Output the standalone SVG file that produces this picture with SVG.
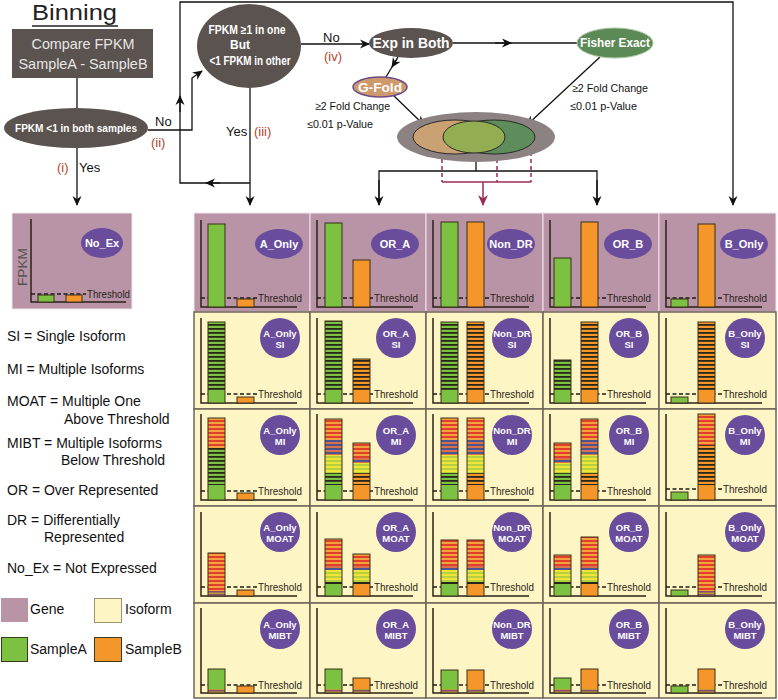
<svg xmlns="http://www.w3.org/2000/svg" width="778" height="700" viewBox="0 0 778 700">
<defs>
<style>
text{font-family:"Liberation Sans",Arial,sans-serif}
.gene{fill:#b994a7;stroke:#efe6ea;stroke-width:1}
.iso{fill:#fdf6c4;stroke:#6d655b;stroke-width:1.5}
.ax{fill:none;stroke:#2b2218;stroke-width:1.5}
.th{stroke:#1f1a14;stroke-width:1.3;stroke-dasharray:4 2.5}
.tt{font-size:10.5px;fill:#2b2218}
.lbl{fill:#6a4c9c}
.lt{font-weight:bold;fill:#fff;text-anchor:middle;font-size:11px}
.lc{font-weight:bold;fill:#fff;text-anchor:middle;font-size:9.5px}
.g{fill:#7cc142}
.o{fill:#f5962a}
.bar{stroke:#3a2e1a;stroke-width:1}
.ol{fill:none;stroke:#3a2e1a;stroke-width:1}
.k{fill:#26261a}
.dark{fill:#5b534f}
.wt{fill:#fff;font-weight:bold;text-anchor:middle}
.cn{stroke:#111;stroke-width:1.3;fill:none}
.red{stroke:#9b2a5a;stroke-width:1.5;fill:none}
.lab{font-size:13px;fill:#111}
.num{font-size:13px;fill:#b5452a}
.small{font-size:11px;fill:#111}
.leg{font-size:14px;fill:#111}
</style>
<marker id="ah" viewBox="0 0 10 10" refX="9" refY="5" markerWidth="10" markerHeight="10" markerUnits="userSpaceOnUse" orient="auto"><path d="M0,0.5 L10,5 L0,9.5 L3,5 z" fill="#111"/></marker>
<marker id="ahr" viewBox="0 0 10 10" refX="9" refY="5" markerWidth="11" markerHeight="11" markerUnits="userSpaceOnUse" orient="auto"><path d="M0,0.5 L10,5 L0,9.5 L3,5 z" fill="#9b2a5a"/></marker>
<pattern id="sG" width="4" height="4" patternUnits="userSpaceOnUse"><rect width="4" height="4" fill="#7cc142"/><rect width="4" height="1.8" fill="#26261a"/></pattern>
<pattern id="sO" width="4" height="4" patternUnits="userSpaceOnUse"><rect width="4" height="4" fill="#f5962a"/><rect width="4" height="1.8" fill="#26261a"/></pattern>
<pattern id="sR" width="4" height="4" patternUnits="userSpaceOnUse"><rect width="4" height="4" fill="#f4a23e"/><rect width="4" height="2" fill="#df3f2b"/></pattern>
<pattern id="sB" width="4" height="4" patternUnits="userSpaceOnUse"><rect width="4" height="4" fill="#d9704a"/><rect width="4" height="2" fill="#4a5592"/></pattern>
<pattern id="sY" width="4" height="4" patternUnits="userSpaceOnUse"><rect width="4" height="4" fill="#eee53c"/><rect width="4" height="2" fill="#b6d03e"/></pattern>
<pattern id="sM" width="3" height="3" patternUnits="userSpaceOnUse"><rect width="3" height="3" fill="#b8a03a"/><rect width="3" height="1.5" fill="#8a4a6a"/></pattern>
</defs>
<rect width="778" height="700" fill="#fff"/>

<g id="title">
<text x="32" y="20" font-size="22" fill="#222" textLength="85" lengthAdjust="spacingAndGlyphs">Binning</text>
<line x1="32" y1="26" x2="118" y2="26" stroke="#222" stroke-width="1.5"/>
</g>

<g id="connectors">
<line class="cn" x1="77" y1="78" x2="77" y2="108"/>
<line class="cn" x1="77" y1="148" x2="77" y2="205" marker-end="url(#ah)"/>
<polyline class="cn" points="148,130 192,130 192,78 202,71" marker-end="url(#ah)"/>
<line class="cn" x1="250" y1="88" x2="250" y2="205" marker-end="url(#ah)"/>
<polyline class="cn" points="250,183 180,183 180,2 733,2 733,205" marker-end="url(#ah)"/>
<path class="cn" d="M220,183 L206,183" marker-end="url(#ah)"/>
<path class="cn" d="M180,112 L180,96" marker-end="url(#ah)"/>
<line class="cn" x1="301" y1="44" x2="369" y2="44" marker-end="url(#ah)"/>
<line class="cn" x1="453" y1="43" x2="577" y2="43"/>
<path class="cn" d="M495,43 L511,43" marker-end="url(#ah)"/>
<line class="cn" x1="398" y1="57" x2="386" y2="77"/>
<path class="cn" d="M397,59 L392,67" marker-end="url(#ah)"/>
<line class="cn" x1="393" y1="95" x2="424" y2="125" marker-end="url(#ah)"/>
<line class="cn" x1="600" y1="57" x2="527" y2="125" marker-end="url(#ah)"/>
<polyline class="cn" points="476,153 476,171"/>
<polyline class="cn" points="379,205 379,171 597,171 597,205"/>
<line class="cn" x1="379" y1="180" x2="379" y2="205" marker-end="url(#ah)"/>
<line class="cn" x1="597" y1="180" x2="597" y2="205" marker-end="url(#ah)"/>
<path class="red" d="M442,152 V182 M497,152 V182 M531,152 V182" stroke-dasharray="4 3"/>
<path class="red" d="M442,182 H531"/>
<line class="red" x1="483" y1="182" x2="483" y2="205" marker-end="url(#ahr)"/>
<text class="lab" x="155" y="126">No</text>
<text class="num" x="151" y="147">(ii)</text>
<text class="num" x="57" y="172">(i)</text>
<text class="lab" x="79" y="172">Yes</text>
<text class="lab" x="226" y="136">Yes</text>
<text class="num" x="254" y="136">(iii)</text>
<text class="lab" x="323" y="42">No</text>
<text class="num" x="324" y="61">(iv)</text>
<text class="small" x="315" y="110" textLength="75" lengthAdjust="spacingAndGlyphs">≥2 Fold Change</text>
<text class="small" x="307" y="128" textLength="66" lengthAdjust="spacingAndGlyphs">≤0.01 p-Value</text>
<text class="small" x="572" y="92" textLength="76" lengthAdjust="spacingAndGlyphs">≥2 Fold Change</text>
<text class="small" x="570" y="110" textLength="67" lengthAdjust="spacingAndGlyphs">≤0.01 p-Value</text>
</g>

<g id="compare">
<rect class="dark" x="12" y="29" width="141" height="49"/>
<text x="83" y="49" font-size="14.5" fill="#e6e6e6" text-anchor="middle" textLength="103" lengthAdjust="spacingAndGlyphs">Compare FPKM</text>
<text x="83" y="69" font-size="14.5" fill="#e6e6e6" text-anchor="middle" textLength="129" lengthAdjust="spacingAndGlyphs">SampleA - SampleB</text>
</g>
<g id="both-low">
<ellipse class="dark" cx="76" cy="128" rx="72" ry="20"/>
<text class="wt" x="76" y="132" font-size="10.5" textLength="122" lengthAdjust="spacingAndGlyphs">FPKM &lt;1 in both samples</text>
</g>
<g id="one-high">
<ellipse class="dark" cx="249" cy="46" rx="52" ry="42"/>
<text class="wt" x="247" y="34" font-size="12" textLength="77" lengthAdjust="spacingAndGlyphs">FPKM ≥1 in one</text>
<text class="wt" x="240" y="49" font-size="12">But</text>
<text class="wt" x="250" y="65" font-size="12" textLength="81" lengthAdjust="spacingAndGlyphs">&lt;1 FPKM in other</text>
</g>
<g id="exp-both">
<ellipse class="dark" cx="411" cy="43" rx="42" ry="15"/>
<text class="wt" x="411" y="48" font-size="14" textLength="77" lengthAdjust="spacingAndGlyphs">Exp in Both</text>
</g>
<g id="fisher">
<ellipse cx="615" cy="43" rx="38" ry="15" fill="#5c8a57" stroke="#a9c6a0" stroke-width="1"/>
<text class="wt" x="615" y="47" font-size="12.5" textLength="70" lengthAdjust="spacingAndGlyphs">Fisher Exact</text>
</g>
<g id="gfold">
<ellipse cx="380" cy="87" rx="27" ry="10" fill="#cf9a6b" stroke="#6a4a8a" stroke-width="1.5"/>
<text class="wt" x="380" y="92" font-size="12.5" textLength="44" lengthAdjust="spacingAndGlyphs">G-Fold</text>
</g>
<g id="venn">
<ellipse cx="476" cy="137" rx="79" ry="25" fill="#8c8282"/>
<ellipse cx="455" cy="137" rx="42" ry="17" fill="#c9a172" stroke="#2a2a2a" stroke-width="1"/>
<ellipse cx="494" cy="137" rx="41" ry="17" fill="#5e8c5a" stroke="#2a2a2a" stroke-width="1"/>
<ellipse cx="474" cy="137" rx="31" ry="16" fill="#93ad52" stroke="#2a2a2a" stroke-width="1"/>
</g>

<g id="no-ex">
<rect class="gene" x="12" y="213" width="120" height="96"/>
<path class="ax" d="M31,219 V302 H126"/>
<line class="th" x1="31" y1="294" x2="86" y2="294"/>
<text class="tt" x="87" y="298" textLength="43" lengthAdjust="spacingAndGlyphs">Threshold</text>
<rect class="g bar" x="38" y="295" width="16" height="7"/>
<rect class="o bar" x="66" y="295" width="16" height="7"/>
<ellipse class="lbl" cx="102" cy="243" rx="21" ry="15"/>
<text class="lt" x="102" y="247">No_Ex</text>
<text x="0" y="0" font-size="13" fill="#555" text-anchor="middle" transform="translate(27,267) rotate(-90)" textLength="38" lengthAdjust="spacingAndGlyphs">FPKM</text>
</g>

<!-- GENE ROW -->
<g id="gene-A_Only">
<rect class="gene" x="194" y="213" width="116" height="99"/>
<path class="ax" d="M201,220 V307 H297"/>
<line class="th" x1="201" y1="298" x2="257" y2="298"/>
<text class="tt" x="258" y="301.5" textLength="44" lengthAdjust="spacingAndGlyphs">Threshold</text>
<rect class="g bar" x="208" y="224" width="17" height="83"/>
<rect class="o bar" x="237" y="299" width="17" height="8"/>
<ellipse class="lbl" cx="279" cy="244" rx="24" ry="15"/>
<text class="lt" x="279" y="248">A_Only</text>
</g>
<g id="gene-OR_A">
<rect class="gene" x="310" y="213" width="116" height="99"/>
<path class="ax" d="M317,220 V307 H413"/>
<line class="th" x1="317" y1="298" x2="373" y2="298"/>
<text class="tt" x="374" y="301.5" textLength="44" lengthAdjust="spacingAndGlyphs">Threshold</text>
<rect class="g bar" x="325" y="223" width="17" height="84"/>
<rect class="o bar" x="353" y="260" width="17" height="47"/>
<ellipse class="lbl" cx="395" cy="244" rx="24" ry="15"/>
<text class="lt" x="395" y="248">OR_A</text>
</g>
<g id="gene-Non_DR">
<rect class="gene" x="426" y="213" width="117" height="99"/>
<path class="ax" d="M433,220 V307 H529"/>
<line class="th" x1="433" y1="298" x2="489" y2="298"/>
<text class="tt" x="490" y="301.5" textLength="44" lengthAdjust="spacingAndGlyphs">Threshold</text>
<rect class="g bar" x="441" y="222" width="17" height="85"/>
<rect class="o bar" x="467" y="222" width="17" height="85"/>
<ellipse class="lbl" cx="511" cy="244" rx="24" ry="15"/>
<text class="lt" x="511" y="248">Non_DR</text>
</g>
<g id="gene-OR_B">
<rect class="gene" x="543" y="213" width="116" height="99"/>
<path class="ax" d="M550,220 V307 H646"/>
<line class="th" x1="550" y1="298" x2="606" y2="298"/>
<text class="tt" x="607" y="301.5" textLength="44" lengthAdjust="spacingAndGlyphs">Threshold</text>
<rect class="g bar" x="554" y="258" width="17" height="49"/>
<rect class="o bar" x="581" y="222" width="17" height="85"/>
<ellipse class="lbl" cx="628" cy="244" rx="24" ry="15"/>
<text class="lt" x="628" y="248">OR_B</text>
</g>
<g id="gene-B_Only">
<rect class="gene" x="659" y="213" width="117" height="99"/>
<path class="ax" d="M666,220 V307 H762"/>
<line class="th" x1="666" y1="298" x2="722" y2="298"/>
<text class="tt" x="723" y="301.5" textLength="44" lengthAdjust="spacingAndGlyphs">Threshold</text>
<rect class="g bar" x="671" y="299" width="17" height="8"/>
<rect class="o bar" x="698" y="224" width="17" height="83"/>
<ellipse class="lbl" cx="744" cy="244" rx="24" ry="15"/>
<text class="lt" x="744" y="248">B_Only</text>
</g>

<!-- SI ROW -->
<g id="si-A_Only">
<rect class="iso" x="194" y="312" width="116" height="97"/>
<path class="ax" d="M201,318 V403 H297"/>
<line class="th" x1="201" y1="394" x2="257" y2="394"/>
<text class="tt" x="258" y="397.5" textLength="44" lengthAdjust="spacingAndGlyphs">Threshold</text>
<rect x="208" y="322" width="17" height="70" fill="url(#sG)"/><rect class="g" x="208" y="392" width="17" height="11"/><rect class="ol" x="208" y="322" width="17" height="81"/>
<rect class="o bar" x="237" y="397" width="17" height="6"/>
<circle class="lbl" cx="280" cy="338" r="20"/>
<text class="lc" x="280" y="337">A_Only</text><text class="lc" x="280" y="348">SI</text>
</g>
<g id="si-OR_A">
<rect class="iso" x="310" y="312" width="116" height="97"/>
<path class="ax" d="M317,318 V403 H413"/>
<line class="th" x1="317" y1="394" x2="373" y2="394"/>
<text class="tt" x="374" y="397.5" textLength="44" lengthAdjust="spacingAndGlyphs">Threshold</text>
<rect x="325" y="321" width="17" height="71" fill="url(#sG)"/><rect class="g" x="325" y="392" width="17" height="11"/><rect class="ol" x="325" y="321" width="17" height="82"/>
<rect x="353" y="359" width="17" height="33" fill="url(#sO)"/><rect class="o" x="353" y="392" width="17" height="11"/><rect class="ol" x="353" y="359" width="17" height="44"/>
<circle class="lbl" cx="396" cy="338" r="20"/>
<text class="lc" x="396" y="337">OR_A</text><text class="lc" x="396" y="348">SI</text>
</g>
<g id="si-Non_DR">
<rect class="iso" x="426" y="312" width="117" height="97"/>
<path class="ax" d="M433,318 V403 H529"/>
<line class="th" x1="433" y1="394" x2="489" y2="394"/>
<text class="tt" x="490" y="397.5" textLength="44" lengthAdjust="spacingAndGlyphs">Threshold</text>
<rect x="441" y="322" width="17" height="70" fill="url(#sG)"/><rect class="g" x="441" y="392" width="17" height="11"/><rect class="ol" x="441" y="322" width="17" height="81"/>
<rect x="467" y="322" width="17" height="70" fill="url(#sO)"/><rect class="o" x="467" y="392" width="17" height="11"/><rect class="ol" x="467" y="322" width="17" height="81"/>
<circle class="lbl" cx="512" cy="338" r="20"/>
<text class="lc" x="512" y="337">Non_DR</text><text class="lc" x="512" y="348">SI</text>
</g>
<g id="si-OR_B">
<rect class="iso" x="543" y="312" width="116" height="97"/>
<path class="ax" d="M550,318 V403 H646"/>
<line class="th" x1="550" y1="394" x2="606" y2="394"/>
<text class="tt" x="607" y="397.5" textLength="44" lengthAdjust="spacingAndGlyphs">Threshold</text>
<rect x="554" y="360" width="17" height="32" fill="url(#sG)"/><rect class="g" x="554" y="392" width="17" height="11"/><rect class="ol" x="554" y="360" width="17" height="43"/>
<rect x="581" y="322" width="17" height="70" fill="url(#sO)"/><rect class="o" x="581" y="392" width="17" height="11"/><rect class="ol" x="581" y="322" width="17" height="81"/>
<circle class="lbl" cx="629" cy="338" r="20"/>
<text class="lc" x="629" y="337">OR_B</text><text class="lc" x="629" y="348">SI</text>
</g>
<g id="si-B_Only">
<rect class="iso" x="659" y="312" width="117" height="97"/>
<path class="ax" d="M666,318 V403 H762"/>
<line class="th" x1="666" y1="394" x2="722" y2="394"/>
<text class="tt" x="723" y="397.5" textLength="44" lengthAdjust="spacingAndGlyphs">Threshold</text>
<rect class="g bar" x="671" y="397" width="17" height="6"/>
<rect x="698" y="322" width="17" height="70" fill="url(#sO)"/><rect class="o" x="698" y="392" width="17" height="11"/><rect class="ol" x="698" y="322" width="17" height="81"/>
<circle class="lbl" cx="745" cy="338" r="20"/>
<text class="lc" x="745" y="337">B_Only</text><text class="lc" x="745" y="348">SI</text>
</g>

<!-- MI ROW -->
<g id="mi-A_Only">
<rect class="iso" x="194" y="409" width="116" height="97"/>
<path class="ax" d="M201,414 V500 H297"/>
<line class="th" x1="201" y1="491" x2="257" y2="491"/>
<text class="tt" x="258" y="494.5" textLength="44" lengthAdjust="spacingAndGlyphs">Threshold</text>
<rect x="208" y="418" width="17" height="30" fill="url(#sR)"/><rect x="208" y="448" width="17" height="37" fill="url(#sG)"/><rect class="g" x="208" y="485" width="17" height="15"/><rect class="ol" x="208" y="418" width="17" height="82"/>
<rect class="o bar" x="237" y="493" width="17" height="7"/>
<circle class="lbl" cx="280" cy="435" r="20"/>
<text class="lc" x="280" y="434">A_Only</text><text class="lc" x="280" y="445">MI</text>
</g>
<g id="mi-OR_A">
<rect class="iso" x="310" y="409" width="116" height="97"/>
<path class="ax" d="M317,414 V500 H413"/>
<line class="th" x1="317" y1="491" x2="373" y2="491"/>
<text class="tt" x="374" y="494.5" textLength="44" lengthAdjust="spacingAndGlyphs">Threshold</text>
<rect x="325" y="419" width="17" height="21" fill="url(#sR)"/><rect x="325" y="440" width="17" height="15" fill="url(#sB)"/><rect x="325" y="455" width="17" height="18" fill="url(#sY)"/><rect x="325" y="473" width="17" height="12" fill="url(#sG)"/><rect class="g" x="325" y="485" width="17" height="15"/><rect class="ol" x="325" y="419" width="17" height="81"/>
<rect x="353" y="443" width="17" height="15" fill="url(#sR)"/><rect x="353" y="458" width="17" height="5" fill="url(#sB)"/><rect x="353" y="463" width="17" height="10" fill="url(#sY)"/><rect x="353" y="473" width="17" height="12" fill="url(#sO)"/><rect class="o" x="353" y="485" width="17" height="15"/><rect class="ol" x="353" y="443" width="17" height="57"/>
<circle class="lbl" cx="396" cy="435" r="20"/>
<text class="lc" x="396" y="434">OR_A</text><text class="lc" x="396" y="445">MI</text>
</g>
<g id="mi-Non_DR">
<rect class="iso" x="426" y="409" width="117" height="97"/>
<path class="ax" d="M433,414 V500 H529"/>
<line class="th" x1="433" y1="491" x2="489" y2="491"/>
<text class="tt" x="490" y="494.5" textLength="44" lengthAdjust="spacingAndGlyphs">Threshold</text>
<rect x="441" y="418" width="17" height="22" fill="url(#sR)"/><rect x="441" y="440" width="17" height="15" fill="url(#sB)"/><rect x="441" y="455" width="17" height="18" fill="url(#sY)"/><rect x="441" y="473" width="17" height="12" fill="url(#sG)"/><rect class="g" x="441" y="485" width="17" height="15"/><rect class="ol" x="441" y="418" width="17" height="82"/>
<rect x="467" y="418" width="17" height="22" fill="url(#sR)"/><rect x="467" y="440" width="17" height="15" fill="url(#sB)"/><rect x="467" y="455" width="17" height="18" fill="url(#sY)"/><rect x="467" y="473" width="17" height="12" fill="url(#sO)"/><rect class="o" x="467" y="485" width="17" height="15"/><rect class="ol" x="467" y="418" width="17" height="82"/>
<circle class="lbl" cx="512" cy="435" r="20"/>
<text class="lc" x="512" y="434">Non_DR</text><text class="lc" x="512" y="445">MI</text>
</g>
<g id="mi-OR_B">
<rect class="iso" x="543" y="409" width="116" height="97"/>
<path class="ax" d="M550,414 V500 H646"/>
<line class="th" x1="550" y1="491" x2="606" y2="491"/>
<text class="tt" x="607" y="494.5" textLength="44" lengthAdjust="spacingAndGlyphs">Threshold</text>
<rect x="554" y="443" width="17" height="15" fill="url(#sR)"/><rect x="554" y="458" width="17" height="5" fill="url(#sB)"/><rect x="554" y="463" width="17" height="10" fill="url(#sY)"/><rect x="554" y="473" width="17" height="12" fill="url(#sG)"/><rect class="g" x="554" y="485" width="17" height="15"/><rect class="ol" x="554" y="443" width="17" height="57"/>
<rect x="581" y="419" width="17" height="21" fill="url(#sR)"/><rect x="581" y="440" width="17" height="15" fill="url(#sB)"/><rect x="581" y="455" width="17" height="18" fill="url(#sY)"/><rect x="581" y="473" width="17" height="12" fill="url(#sO)"/><rect class="o" x="581" y="485" width="17" height="15"/><rect class="ol" x="581" y="419" width="17" height="81"/>
<circle class="lbl" cx="629" cy="435" r="20"/>
<text class="lc" x="629" y="434">OR_B</text><text class="lc" x="629" y="445">MI</text>
</g>
<g id="mi-B_Only">
<rect class="iso" x="659" y="409" width="117" height="97"/>
<path class="ax" d="M666,414 V500 H762"/>
<line class="th" x1="666" y1="489" x2="722" y2="489"/>
<text class="tt" x="723" y="492.5" textLength="44" lengthAdjust="spacingAndGlyphs">Threshold</text>
<rect class="g bar" x="671" y="492" width="17" height="8"/>
<rect x="698" y="414" width="17" height="31" fill="url(#sR)"/><rect x="698" y="445" width="17" height="40" fill="url(#sO)"/><rect class="o" x="698" y="485" width="17" height="15"/><rect class="ol" x="698" y="414" width="17" height="86"/>
<circle class="lbl" cx="745" cy="435" r="20"/>
<text class="lc" x="745" y="434">B_Only</text><text class="lc" x="745" y="445">MI</text>
</g>

<!-- MOAT ROW -->
<g id="moat-A_Only">
<rect class="iso" x="194" y="506" width="116" height="97"/>
<path class="ax" d="M201,512 V596 H297"/>
<line class="th" x1="201" y1="587" x2="257" y2="587"/>
<text class="tt" x="258" y="590.5" textLength="44" lengthAdjust="spacingAndGlyphs">Threshold</text>
<rect x="208" y="553" width="17" height="38" fill="url(#sR)"/><rect x="208" y="591" width="17" height="5" fill="url(#sM)"/><rect class="ol" x="208" y="553" width="17" height="43"/>
<rect class="o bar" x="237" y="590" width="17" height="6"/>
<circle class="lbl" cx="280" cy="532" r="20"/>
<text class="lc" x="280" y="531">A_Only</text><text class="lc" x="280" y="542">MOAT</text>
</g>
<g id="moat-OR_A">
<rect class="iso" x="310" y="506" width="116" height="97"/>
<path class="ax" d="M317,512 V596 H413"/>
<line class="th" x1="317" y1="587" x2="373" y2="587"/>
<text class="tt" x="374" y="590.5" textLength="44" lengthAdjust="spacingAndGlyphs">Threshold</text>
<rect x="325" y="539" width="17" height="27" fill="url(#sR)"/><rect x="325" y="566" width="17" height="4" fill="url(#sB)"/><rect x="325" y="570" width="17" height="12" fill="url(#sY)"/><rect class="k" x="325" y="582" width="17" height="2"/><rect class="g" x="325" y="584" width="17" height="12"/><rect class="ol" x="325" y="539" width="17" height="57"/>
<rect x="353" y="554" width="17" height="12" fill="url(#sR)"/><rect x="353" y="566" width="17" height="4" fill="url(#sB)"/><rect x="353" y="570" width="17" height="12" fill="url(#sY)"/><rect class="k" x="353" y="582" width="17" height="2"/><rect class="o" x="353" y="584" width="17" height="12"/><rect class="ol" x="353" y="554" width="17" height="42"/>
<circle class="lbl" cx="396" cy="532" r="20"/>
<text class="lc" x="396" y="531">OR_A</text><text class="lc" x="396" y="542">MOAT</text>
</g>
<g id="moat-Non_DR">
<rect class="iso" x="426" y="506" width="117" height="97"/>
<path class="ax" d="M433,512 V596 H529"/>
<line class="th" x1="433" y1="587" x2="489" y2="587"/>
<text class="tt" x="490" y="590.5" textLength="44" lengthAdjust="spacingAndGlyphs">Threshold</text>
<rect x="441" y="540" width="17" height="26" fill="url(#sR)"/><rect x="441" y="566" width="17" height="4" fill="url(#sB)"/><rect x="441" y="570" width="17" height="12" fill="url(#sY)"/><rect class="k" x="441" y="582" width="17" height="2"/><rect class="g" x="441" y="584" width="17" height="12"/><rect class="ol" x="441" y="540" width="17" height="56"/>
<rect x="467" y="540" width="17" height="26" fill="url(#sR)"/><rect x="467" y="566" width="17" height="4" fill="url(#sB)"/><rect x="467" y="570" width="17" height="12" fill="url(#sY)"/><rect class="k" x="467" y="582" width="17" height="2"/><rect class="o" x="467" y="584" width="17" height="12"/><rect class="ol" x="467" y="540" width="17" height="56"/>
<circle class="lbl" cx="512" cy="532" r="20"/>
<text class="lc" x="512" y="531">Non_DR</text><text class="lc" x="512" y="542">MOAT</text>
</g>
<g id="moat-OR_B">
<rect class="iso" x="543" y="506" width="116" height="97"/>
<path class="ax" d="M550,512 V596 H646"/>
<line class="th" x1="550" y1="587" x2="606" y2="587"/>
<text class="tt" x="607" y="590.5" textLength="44" lengthAdjust="spacingAndGlyphs">Threshold</text>
<rect x="554" y="555" width="17" height="11" fill="url(#sR)"/><rect x="554" y="566" width="17" height="4" fill="url(#sB)"/><rect x="554" y="570" width="17" height="12" fill="url(#sY)"/><rect class="k" x="554" y="582" width="17" height="2"/><rect class="g" x="554" y="584" width="17" height="12"/><rect class="ol" x="554" y="555" width="17" height="41"/>
<rect x="581" y="537" width="17" height="29" fill="url(#sR)"/><rect x="581" y="566" width="17" height="4" fill="url(#sB)"/><rect x="581" y="570" width="17" height="12" fill="url(#sY)"/><rect class="k" x="581" y="582" width="17" height="2"/><rect class="o" x="581" y="584" width="17" height="12"/><rect class="ol" x="581" y="537" width="17" height="59"/>
<circle class="lbl" cx="629" cy="532" r="20"/>
<text class="lc" x="629" y="531">OR_B</text><text class="lc" x="629" y="542">MOAT</text>
</g>
<g id="moat-B_Only">
<rect class="iso" x="659" y="506" width="117" height="97"/>
<path class="ax" d="M666,512 V596 H762"/>
<line class="th" x1="666" y1="587" x2="722" y2="587"/>
<text class="tt" x="723" y="590.5" textLength="44" lengthAdjust="spacingAndGlyphs">Threshold</text>
<rect class="g bar" x="671" y="590" width="17" height="6"/>
<rect x="698" y="555" width="17" height="36" fill="url(#sR)"/><rect x="698" y="591" width="17" height="5" fill="url(#sM)"/><rect class="ol" x="698" y="555" width="17" height="41"/>
<circle class="lbl" cx="745" cy="532" r="20"/>
<text class="lc" x="745" y="531">B_Only</text><text class="lc" x="745" y="542">MOAT</text>
</g>

<!-- MIBT ROW -->
<g id="mibt-A_Only">
<rect class="iso" x="194" y="603" width="116" height="95"/>
<path class="ax" d="M201,608 V693 H297"/>
<line class="th" x1="201" y1="685" x2="257" y2="685"/>
<text class="tt" x="258" y="688.5" textLength="44" lengthAdjust="spacingAndGlyphs">Threshold</text>
<rect class="g" x="208" y="669" width="17" height="20"/><rect x="208" y="689" width="17" height="4" fill="url(#sM)"/><rect class="ol" x="208" y="669" width="17" height="24"/>
<rect class="o bar" x="237" y="686" width="17" height="7"/>
<circle class="lbl" cx="280" cy="629" r="20"/>
<text class="lc" x="280" y="628">A_Only</text><text class="lc" x="280" y="639">MIBT</text>
</g>
<g id="mibt-OR_A">
<rect class="iso" x="310" y="603" width="116" height="95"/>
<path class="ax" d="M317,608 V693 H413"/>
<line class="th" x1="317" y1="685" x2="373" y2="685"/>
<text class="tt" x="374" y="688.5" textLength="44" lengthAdjust="spacingAndGlyphs">Threshold</text>
<rect class="g" x="325" y="669" width="17" height="20"/><rect x="325" y="689" width="17" height="4" fill="url(#sM)"/><rect class="ol" x="325" y="669" width="17" height="24"/>
<rect class="o" x="353" y="678" width="17" height="11"/><rect x="353" y="689" width="17" height="4" fill="url(#sM)"/><rect class="ol" x="353" y="678" width="17" height="15"/>
<circle class="lbl" cx="396" cy="629" r="20"/>
<text class="lc" x="396" y="628">OR_A</text><text class="lc" x="396" y="639">MIBT</text>
</g>
<g id="mibt-Non_DR">
<rect class="iso" x="426" y="603" width="117" height="95"/>
<path class="ax" d="M433,608 V693 H529"/>
<line class="th" x1="433" y1="685" x2="489" y2="685"/>
<text class="tt" x="490" y="688.5" textLength="44" lengthAdjust="spacingAndGlyphs">Threshold</text>
<rect class="g" x="441" y="670" width="17" height="19"/><rect x="441" y="689" width="17" height="4" fill="url(#sM)"/><rect class="ol" x="441" y="670" width="17" height="23"/>
<rect class="o" x="467" y="670" width="17" height="19"/><rect x="467" y="689" width="17" height="4" fill="url(#sM)"/><rect class="ol" x="467" y="670" width="17" height="23"/>
<circle class="lbl" cx="512" cy="629" r="20"/>
<text class="lc" x="512" y="628">Non_DR</text><text class="lc" x="512" y="639">MIBT</text>
</g>
<g id="mibt-OR_B">
<rect class="iso" x="543" y="603" width="116" height="95"/>
<path class="ax" d="M550,608 V693 H646"/>
<line class="th" x1="550" y1="685" x2="606" y2="685"/>
<text class="tt" x="607" y="688.5" textLength="44" lengthAdjust="spacingAndGlyphs">Threshold</text>
<rect class="g" x="554" y="678" width="17" height="11"/><rect x="554" y="689" width="17" height="4" fill="url(#sM)"/><rect class="ol" x="554" y="678" width="17" height="15"/>
<rect class="o" x="581" y="669" width="17" height="20"/><rect x="581" y="689" width="17" height="4" fill="url(#sM)"/><rect class="ol" x="581" y="669" width="17" height="24"/>
<circle class="lbl" cx="629" cy="629" r="20"/>
<text class="lc" x="629" y="628">OR_B</text><text class="lc" x="629" y="639">MIBT</text>
</g>
<g id="mibt-B_Only">
<rect class="iso" x="659" y="603" width="117" height="95"/>
<path class="ax" d="M666,608 V693 H762"/>
<line class="th" x1="666" y1="685" x2="722" y2="685"/>
<text class="tt" x="723" y="688.5" textLength="44" lengthAdjust="spacingAndGlyphs">Threshold</text>
<rect class="g bar" x="671" y="686" width="17" height="7"/>
<rect class="o" x="698" y="669" width="17" height="20"/><rect x="698" y="689" width="17" height="4" fill="url(#sM)"/><rect class="ol" x="698" y="669" width="17" height="24"/>
<circle class="lbl" cx="745" cy="629" r="20"/>
<text class="lc" x="745" y="628">B_Only</text><text class="lc" x="745" y="639">MIBT</text>
</g>

<g id="legend">
<text class="leg" x="7" y="341">SI = Single Isoform</text>
<text class="leg" x="7" y="374">MI = Multiple Isoforms</text>
<text class="leg" x="7" y="406">MOAT = Multiple One</text>
<text class="leg" x="64" y="424">Above Threshold</text>
<text class="leg" x="7" y="448">MIBT = Multiple Isoforms</text>
<text class="leg" x="61" y="465">Below Threshold</text>
<text class="leg" x="7" y="495">OR = Over Represented</text>
<text class="leg" x="7" y="525">DR = Differentially</text>
<text class="leg" x="44" y="542">Represented</text>
<text class="leg" x="7" y="573">No_Ex = Not Expressed</text>
<rect x="1" y="598" width="27" height="24" fill="#b994a7"/>
<text class="leg" x="30" y="614">Gene</text>
<rect x="94.5" y="598.5" width="27" height="24" fill="#fdf6c4" stroke="#a0926a"/>
<text class="leg" x="125" y="614">Isoform</text>
<rect x="1.5" y="637.5" width="26" height="24" fill="#7cc142" stroke="#3a3a20"/>
<text class="leg" x="30" y="654">SampleA</text>
<rect x="94.5" y="637.5" width="27" height="24" fill="#f5962a" stroke="#3a3a20"/>
<text class="leg" x="125" y="654">SampleB</text>
</g>
</svg>
